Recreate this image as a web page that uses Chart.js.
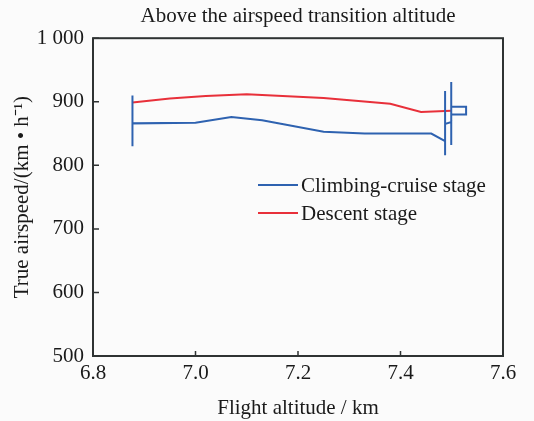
<!DOCTYPE html>
<html>
<head>
<meta charset="utf-8">
<script src="https://cdn.jsdelivr.net/npm/chart.js@4"></script>
<style>
  html, body { margin: 0; padding: 0; background: #fbfbfb; }
  #wrap { width: 534px; height: 421px; }
</style>
</head>
<body>
<div id="wrap"><canvas id="grafico" width="534" height="421"></canvas></div>
<script>
// Climbing-cruise stage (path in drawing order, vertical bars included)
const altitudClimb = [6.877, 6.877, 6.877, 7.0, 7.07, 7.13, 7.25, 7.33, 7.46, 7.487, 7.487, 7.487, 7.487, 7.499, 7.499, 7.499, 7.499, 7.528, 7.528, 7.499];
const velocidadClimb = [910, 830, 866, 867, 876, 871, 853, 850, 850, 838, 917, 816, 865, 868, 931, 832, 892, 892, 880, 880];

// Descent stage
const altitudDescent = [6.877, 6.95, 7.02, 7.1, 7.25, 7.38, 7.44, 7.499];
const velocidadDescent = [899, 905, 909, 912, 906, 897, 884, 886];

const xTicks = [6.8, 7.0, 7.2, 7.4, 7.6];
const yTicks = [500, 600, 700, 800, 900, 1000];

const azul = 'rgb(46,98,176)';
const rojo = 'rgb(232,48,58)';
const fuente = '"Liberation Serif", "Times New Roman", serif';

const toPoints = (xs, ys) => xs.map((x, i) => ({ x: x, y: ys[i] }));

// marco, ticks hacia adentro y leyenda
const marcoPlugin = {
  id: 'marco',
  afterDraw(chart) {
    const { ctx, chartArea: a, scales } = chart;
    ctx.save();
    ctx.strokeStyle = '#2f3333';
    ctx.lineWidth = 2;
    ctx.strokeRect(a.left, a.top, a.right - a.left, a.bottom - a.top);
    ctx.lineWidth = 1.5;
    ctx.beginPath();
    yTicks.forEach(v => {
      const y = scales.y.getPixelForValue(v);
      ctx.moveTo(a.left, y); ctx.lineTo(a.left + 6, y);
    });
    xTicks.forEach(v => {
      const x = scales.x.getPixelForValue(v);
      ctx.moveTo(x, a.bottom); ctx.lineTo(x, a.bottom - 5);
    });
    ctx.stroke();

    // leyenda
    ctx.font = '21px ' + fuente;
    ctx.textBaseline = 'middle';
    ctx.fillStyle = '#1a1a1a';
    chart.data.datasets.forEach((ds, i) => {
      const y = 185 + i * 28;
      ctx.strokeStyle = ds.borderColor;
      ctx.lineWidth = 2;
      ctx.beginPath();
      ctx.moveTo(258, y); ctx.lineTo(298, y);
      ctx.stroke();
      ctx.fillText(ds.label, 301, y + 1);
    });
    ctx.restore();
  }
};

const canvas = document.getElementById('grafico');
new Chart(canvas, {
  type: 'scatter',
  data: {
    datasets: [{
      label: 'Climbing-cruise stage',
      data: toPoints(altitudClimb, velocidadClimb),
      showLine: true,
      borderColor: azul,
      borderWidth: 2,
      pointRadius: 0,
      tension: 0
    }, {
      label: 'Descent stage',
      data: toPoints(altitudDescent, velocidadDescent),
      showLine: true,
      borderColor: rojo,
      borderWidth: 2,
      pointRadius: 0,
      tension: 0
    }]
  },
  options: {
    responsive: false,
    animation: false,
    layout: { padding: { top: 0, right: 31, left: 0, bottom: 0 } },
    plugins: {
      legend: { display: false },
      tooltip: { enabled: false },
      title: {
        display: true,
        fullSize: false,
        text: 'Above the airspeed transition altitude',
        color: '#1a1a1a',
        font: { family: fuente, size: 21, weight: 'normal' },
        padding: { top: 4, bottom: 9 }
      }
    },
    scales: {
      x: {
        type: 'linear',
        min: 6.8, max: 7.6,
        afterBuildTicks: s => { s.ticks = xTicks.map(v => ({ value: v })); },
        afterFit: s => { s.height = 65; },
        grid: { display: false, drawTicks: false },
        border: { display: false },
        ticks: {
          color: '#1a1a1a',
          padding: 5,
          font: { family: fuente, size: 21 },
          callback: v => Number(v).toFixed(1)
        },
        title: {
          display: true,
          text: 'Flight altitude / km',
          color: '#1a1a1a',
          font: { family: fuente, size: 21 },
          padding: { top: 13, bottom: 0 }
        }
      },
      y: {
        type: 'linear',
        min: 500, max: 1000,
        afterBuildTicks: s => { s.ticks = yTicks.map(v => ({ value: v })); },
        afterFit: s => { s.width = 93; },
        grid: { display: false, drawTicks: false },
        border: { display: false },
        ticks: {
          color: '#1a1a1a',
          padding: 9,
          font: { family: fuente, size: 21 },
          callback: v => v === 1000 ? '1 000' : String(v)
        },
        title: {
          display: true,
          text: 'True airspeed/(km \u2022 h\u207B\u00B9)',
          color: '#1a1a1a',
          font: { family: fuente, size: 21 },
          padding: { top: 10, bottom: 4 }
        }
      }
    }
  },
  plugins: [marcoPlugin]
});
</script>
</body>
</html>
